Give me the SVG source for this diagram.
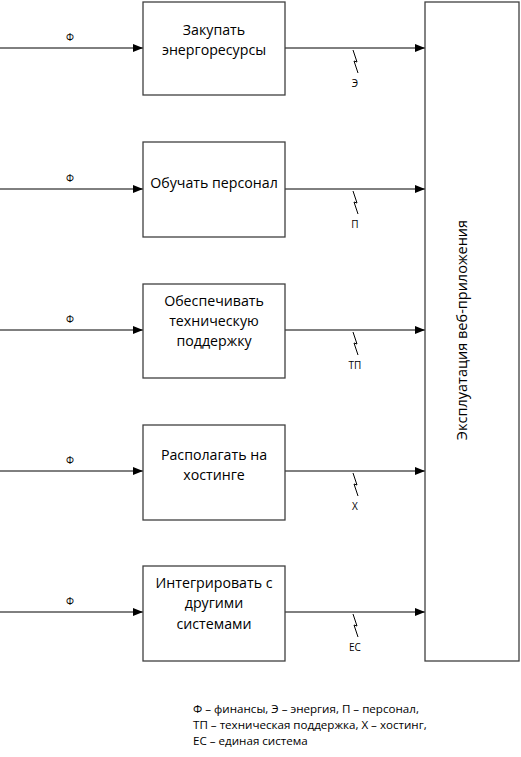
<svg xmlns="http://www.w3.org/2000/svg" width="521" height="757" viewBox="0 0 521 757">
<style>
.box{fill:#fff;stroke:#404040;stroke-width:1.3}
.ln{stroke:#000;stroke-width:1;fill:none}
.sq{stroke:#000;stroke-width:1;fill:none}
.t{font-family:"Open Sans","Liberation Sans",sans-serif;font-size:14.2px;fill:#000;text-anchor:middle}
.v{font-family:"Open Sans","Liberation Sans",sans-serif;font-size:14.5px;fill:#000;text-anchor:middle}
.s{font-family:"Open Sans","Liberation Sans",sans-serif;font-size:10px;fill:#000;text-anchor:middle}
.lg{font-family:"Open Sans","Liberation Sans",sans-serif;font-size:11.6px;fill:#000}
</style>
<defs>
<marker id="ah" markerWidth="10" markerHeight="8" refX="10" refY="4" orient="auto" markerUnits="userSpaceOnUse">
<path d="M0,0 L10,4 L0,8 Z" fill="#000"/>
</marker>
</defs>
<g id="connectors">
<line class="ln" x1="0" y1="48" x2="143" y2="48" marker-end="url(#ah)"/>
<line class="ln" x1="0" y1="189" x2="143" y2="189" marker-end="url(#ah)"/>
<line class="ln" x1="0" y1="330" x2="143" y2="330" marker-end="url(#ah)"/>
<line class="ln" x1="0" y1="471" x2="143" y2="471" marker-end="url(#ah)"/>
<line class="ln" x1="0" y1="612" x2="143" y2="612" marker-end="url(#ah)"/>
<line class="ln" x1="285" y1="48" x2="425" y2="48" marker-end="url(#ah)"/>
<line class="ln" x1="285" y1="189" x2="425" y2="189" marker-end="url(#ah)"/>
<line class="ln" x1="285" y1="330" x2="425" y2="330" marker-end="url(#ah)"/>
<line class="ln" x1="285" y1="471" x2="425" y2="471" marker-end="url(#ah)"/>
<line class="ln" x1="285" y1="612" x2="425" y2="612" marker-end="url(#ah)"/>
<path class="sq" d="M353,50 L357,62 L354,61 L358,73"/>
<path class="sq" d="M353,191 L357,203 L354,202 L358,214"/>
<path class="sq" d="M353,332 L357,344 L354,343 L358,355"/>
<path class="sq" d="M353,473 L357,485 L354,484 L358,496"/>
<path class="sq" d="M353,614 L357,626 L354,625 L358,637"/>
<text class="s" x="70" y="41">Ф</text>
<text class="s" x="70" y="182">Ф</text>
<text class="s" x="70" y="323">Ф</text>
<text class="s" x="70" y="464">Ф</text>
<text class="s" x="70" y="605">Ф</text>
<text class="s" x="355" y="87">Э</text>
<text class="s" x="355" y="228">П</text>
<text class="s" x="355" y="369">ТП</text>
<text class="s" x="355" y="510">Х</text>
<text class="s" x="355" y="651">ЕС</text>
</g>
<g id="n1">
<rect class="box" x="143" y="2" width="142" height="93"/>
<text class="t" x="214" y="35">Закупать</text>
<text class="t" x="214" y="55">энергоресурсы</text>
</g>
<g id="n2">
<rect class="box" x="143" y="142" width="142" height="95"/>
<text class="t" x="214" y="188">Обучать персонал</text>
</g>
<g id="n3">
<rect class="box" x="143" y="284" width="142" height="94"/>
<text class="t" x="214" y="306">Обеспечивать</text>
<text class="t" x="214" y="326">техническую</text>
<text class="t" x="214" y="346">поддержку</text>
</g>
<g id="n4">
<rect class="box" x="143" y="425" width="142" height="95"/>
<text class="t" x="214" y="460">Располагать на</text>
<text class="t" x="214" y="480">хостинге</text>
</g>
<g id="n5">
<rect class="box" x="143" y="566" width="142" height="95"/>
<text class="t" x="214" y="588">Интегрировать с</text>
<text class="t" x="214" y="608">другими</text>
<text class="t" x="214" y="629">системами</text>
</g>
<g id="n6">
<rect class="box" x="425" y="2" width="94" height="659"/>
<text class="v" transform="translate(467,330) rotate(-90)">Эксплуатация веб-приложения</text>
</g>
<g id="legend">
<text class="lg" x="193" y="713">Ф – финансы, Э – энергия, П – персонал,</text>
<text class="lg" x="193" y="729">ТП – техническая поддержка, Х – хостинг,</text>
<text class="lg" x="193" y="745">ЕС – единая система</text>
</g>
</svg>
